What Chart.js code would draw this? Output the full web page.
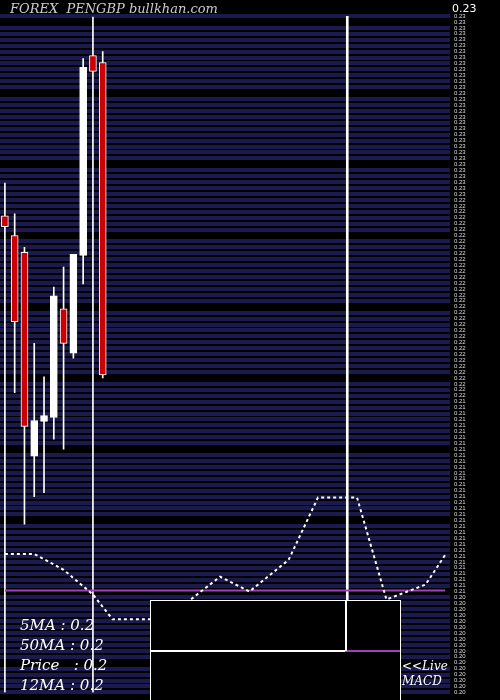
<!DOCTYPE html>
<html><head>
<script src="https://cdn.jsdelivr.net/npm/chart.js@4.4.0/dist/chart.umd.min.js"></script>
<style>html,body{margin:0;background:#000}#wrap{width:500px;height:700px;position:relative}</style>
</head><body>
<div id="wrap"><canvas id="c"></canvas></div>
<script>
// candles (price)
const opens  = [0.2241, 0.2231, 0.22225, 0.21195, 0.2137, 0.2139, 0.2194, 0.21715, 0.2221, 0.2322, 0.23185];
const closes = [0.22355,0.21875,0.21345, 0.21375, 0.2140, 0.22005,0.21765,0.22215, 0.2316, 0.2314, 0.21605];
const highs  = [0.22575,0.2242, 0.2225,  0.21765, 0.21595,0.2205, 0.2215, 0.22215, 0.23205,0.23415,0.2324];
const lows   = [0.2000, 0.21515,0.2085,  0.2099,  0.2101, 0.2128, 0.2123, 0.2169,  0.22065,0.2000, 0.2159];
const N = 46;
const labels = Array.from({length:N}, (_, i) => String(i));
// moving average (lower panel units)
const maIdx  = [0, 3, 6, 9, 11, 15, 19, 22, 25, 29, 32, 36, 39, 43, 45];
const maVals = [140,140,124,99, 74, 74, 94, 117,102,134,197,197,94, 109,139];
const purpleLevel = 103;
const spikeIdx = 35, spikeRange = [44, 684];

const ma = Array(N).fill(null); maIdx.forEach((x, i) => ma[x] = maVals[i]);
const spike = Array(N).fill(null); spike[spikeIdx] = spikeRange;
const isUp = opens.map((o, i) => closes[i] >= o);

const overlay = {
  id: 'overlay',
  afterDraw(ch) {
    const c = ch.ctx;
    c.save();
    c.font = 'italic 13px "DejaVu Serif", serif';
    c.fillStyle = '#ccc';
    c.fillText('FOREX  PENGBP bullkhan.com', 10, 13);
    c.fillStyle = '#000'; c.strokeStyle = '#fff'; c.lineWidth = 1;
    c.fillRect(150, 600, 250, 100); c.strokeRect(150.5, 600.5, 250, 100);
    c.lineWidth = 2;
    c.beginPath(); c.moveTo(150, 651); c.lineTo(345, 651); c.stroke();
    c.strokeStyle = '#a040c0';
    c.beginPath(); c.moveTo(345, 651); c.lineTo(400, 651); c.stroke();
    c.strokeStyle = '#fff';
    c.beginPath(); c.moveTo(346, 600); c.lineTo(346, 651); c.stroke();
    c.fillStyle = '#fff';
    c.font = 'italic 15px "DejaVu Serif", serif';
    ['5MA : 0.2', '50MA : 0.2', 'Price   : 0.2', '12MA : 0.2'].forEach((t, i) => c.fillText(t, 20, 630 + i * 20));
    c.font = 'italic 12px "DejaVu Serif", serif';
    c.fillText('<<Live', 402, 670); c.fillText('MACD', 402, 685);
    c.font = '11px "DejaVu Sans", sans-serif';
    c.fillText('0.23', 452, 12);
    c.restore();
  }
};

new Chart(document.getElementById('c'), {
  type: 'bar',
  data: { labels, datasets: [
    { data: opens.map((o, i) => [lows[i], highs[i]]), backgroundColor: '#fff', barThickness: 1, grouped: false, order: 3 },
    { data: opens.map((o, i) => [o, closes[i]]), backgroundColor: isUp.map(u => u ? '#fff' : '#cc0000'),
      borderColor: '#fff', borderWidth: 1, borderSkipped: false, barThickness: 7, grouped: false, order: 2 },
    { type: 'line', data: ma, yAxisID: 'y2', borderColor: '#fff', borderWidth: 2, borderDash: [3, 3], pointRadius: 0, spanGaps: true, order: 1 },
    { type: 'line', data: Array(N).fill(purpleLevel), yAxisID: 'y2', borderColor: '#a040c0', borderWidth: 2, pointRadius: 0, order: 1 },
    { data: spike, yAxisID: 'y2', backgroundColor: '#fff', barThickness: 2, grouped: false, order: 1 }
  ]},
  plugins: [overlay],
  options: {
    responsive: true, maintainAspectRatio: false, animation: false,
    layout: { padding: { top: 16, left: 0, right: 0, bottom: 0 } },
    plugins: { legend: { display: false }, tooltip: { enabled: false } },
    scales: {
      x: { display: false, offset: true },
      y: { position: 'right', min: 0.2, max: 0.2342, afterBuildTicks: s => { s.ticks = []; for (let k = 0; k <= 114; k++) s.ticks.push({ value: 0.2 + k * 0.0003 }); },
           grid: { color: k => k.index % 12 === 5 ? '#000' : '#1a1a4e', lineWidth: 4, drawTicks: false },
           border: { display: false },
           ticks: { color: '#ddd', font: { size: 6 }, autoSkip: false, padding: 4, callback: v => v.toFixed(2) },
           afterFit: s => { s.width = 50; } },
      y2: { display: false, min: 0, max: 684 }
    }
  }
});
</script>
</body></html>
